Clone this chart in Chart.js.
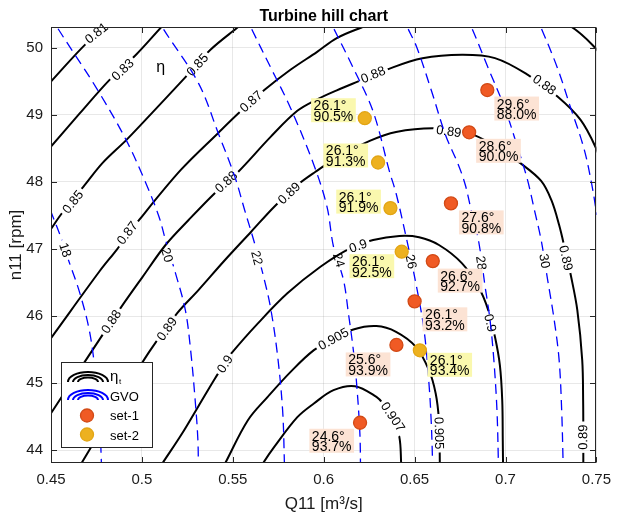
<!DOCTYPE html>
<html>
<head>
<meta charset="utf-8">
<script src="https://cdn.jsdelivr.net/npm/chart.js@4.4.1/dist/chart.umd.min.js"></script>
<style>
  html, body { margin: 0; padding: 0; background: #fff; }
  #wrap { width: 619px; height: 517px; }
</style>
</head>
<body>
<div id="wrap"><canvas id="hill" width="619" height="517"></canvas></div>
<script>
const FONT = '"Liberation Sans", Arial, Helvetica, sans-serif';

// ---- axes ----
const xTicks = [0.45, 0.5, 0.55, 0.6, 0.65, 0.7, 0.75];
const yTicks = [44, 45, 46, 47, 48, 49, 50];
const xRange = [0.45, 0.75];
const yRange = [43.81, 50.31];

// ---- efficiency contours, [Q11, n11] ----
const eta081 = [[0.4450,49.351],[0.4500,49.497],[0.4696,50.070],[0.4806,50.309],[0.4870,50.48]];
const eta083 = [[0.4450,48.370],[0.4500,48.527],[0.4659,49.025],[0.4822,49.522],[0.4969,49.900],[0.5107,50.309],[0.5160,50.46]];
const eta085 = [[0.4450,47.104],[0.4500,47.299],[0.4561,47.537],[0.4686,47.955],[0.4784,48.284],[0.4915,48.627],[0.5056,49.030],[0.5241,49.567],[0.5377,49.970],[0.5529,50.309],[0.5580,50.42]];
const eta087 = [[0.4450,45.490],[0.4500,45.672],[0.4768,46.672],[0.4860,46.985],[0.4985,47.433],[0.5214,48.179],[0.5420,48.731],[0.5540,49.045],[0.5675,49.373],[0.5817,49.672],[0.5964,49.940],[0.6072,50.145],[0.6208,50.303],[0.6400,50.50],[0.6800,50.62],[0.7150,50.55],[0.7359,50.318],[0.7495,49.996],[0.7540,49.82]];
const eta088 = [[0.4450,44.333],[0.4500,44.552],[0.4768,45.657],[0.4886,46.134],[0.5003,46.582],[0.5130,47.060],[0.5257,47.433],[0.5402,47.836],[0.5529,48.149],[0.5708,48.672],[0.5855,49.060],[0.5964,49.231],[0.6072,49.366],[0.6190,49.500],[0.6344,49.672],[0.6543,49.843],[0.6761,49.896],[0.6942,49.846],[0.7123,49.597],[0.7286,49.273],[0.7413,48.925],[0.7498,48.503],[0.7540,48.179]];
const eta089 = [[0.4638,43.672],[0.4849,44.627],[0.5040,45.467],[0.5193,46.040],[0.5311,46.388],[0.5457,46.836],[0.5601,47.258],[0.5728,47.631],[0.5855,47.955],[0.5953,48.149],[0.6072,48.358],[0.6253,48.612],[0.6398,48.746],[0.6616,48.799],[0.6795,48.731],[0.6942,48.537],[0.7087,48.269],[0.7196,48.015],[0.7252,47.731],[0.7295,47.358],[0.7328,46.985],[0.7359,46.612],[0.7395,46.090],[0.7422,45.343],[0.7427,44.746],[0.7428,44.149],[0.7428,43.701]];
const eta090 = [[0.5067,43.612],[0.5112,43.801],[0.5221,44.249],[0.5311,44.657],[0.5402,45.070],[0.5457,45.299],[0.5492,45.443],[0.5638,45.891],[0.5800,46.339],[0.5982,46.736],[0.6145,47.010],[0.6272,47.134],[0.6416,47.194],[0.6525,47.175],[0.6634,47.060],[0.6761,46.787],[0.6851,46.437],[0.6905,46.090],[0.6942,45.691],[0.6969,45.269],[0.6982,44.746],[0.6985,44.149],[0.6987,43.627]];
const eta0905 = [[0.5420,43.612],[0.5457,43.801],[0.5583,44.448],[0.5692,44.796],[0.5818,45.169],[0.5946,45.493],[0.6054,45.657],[0.6163,45.801],[0.6290,45.851],[0.6398,45.766],[0.6507,45.542],[0.6579,45.194],[0.6616,44.846],[0.6634,44.448],[0.6638,44.000],[0.6639,43.627]];
const eta0907 = [[0.5627,43.627],[0.5665,43.801],[0.5728,44.049],[0.5855,44.493],[0.5946,44.697],[0.6054,44.896],[0.6172,44.955],[0.6290,44.796],[0.6326,44.697],[0.6377,44.493],[0.6416,44.199],[0.6426,43.810],[0.6428,43.627]];

// ---- guide vane opening lines, [Q11, n11] ----
const gvo18 = [[0.4442,47.955],[0.4496,47.582],[0.4560,47.134],[0.4596,46.836],[0.4659,46.339],[0.4714,45.742],[0.4750,44.996],[0.4768,44.448],[0.4777,43.821],[0.4779,43.627]];
const gvo20 = [[0.4496,50.493],[0.4533,50.309],[0.4750,49.399],[0.4913,48.627],[0.5022,47.981],[0.5094,47.482],[0.5130,47.134],[0.5185,46.637],[0.5239,46.090],[0.5268,45.493],[0.5293,44.746],[0.5308,44.149],[0.5311,43.627]];
const gvo22 = [[0.5083,50.493],[0.5112,50.309],[0.5311,49.473],[0.5420,48.727],[0.5511,48.079],[0.5565,47.582],[0.5620,47.085],[0.5674,46.537],[0.5710,46.090],[0.5747,45.393],[0.5774,44.597],[0.5783,43.900],[0.5784,43.627]];
const gvo24 = [[0.5567,50.493],[0.5601,50.294],[0.5710,49.697],[0.5818,49.100],[0.5946,48.254],[0.6018,47.631],[0.6054,47.034],[0.6109,46.537],[0.6136,46.040],[0.6163,45.493],[0.6181,44.996],[0.6199,44.249],[0.6203,43.627]];
const gvo26 = [[0.6018,50.493],[0.6054,50.294],[0.6163,49.697],[0.6272,49.049],[0.6362,48.154],[0.6398,47.831],[0.6453,47.184],[0.6507,46.488],[0.6552,45.791],[0.6579,44.996],[0.6591,44.448],[0.6598,43.900],[0.6599,43.627]];
const gvo28 = [[0.6426,50.493],[0.6462,50.294],[0.6513,50.000],[0.6594,49.348],[0.6670,48.701],[0.6741,48.254],[0.6779,47.955],[0.6811,47.582],[0.6851,47.134],[0.6888,46.437],[0.6915,45.940],[0.6936,45.343],[0.6953,44.597],[0.6961,43.806],[0.6962,43.627]];
const gvo30 = [[0.6779,50.493],[0.6815,50.294],[0.6905,49.697],[0.6996,49.100],[0.7068,48.503],[0.7121,48.030],[0.7159,47.582],[0.7196,47.134],[0.7232,46.537],[0.7268,45.940],[0.7295,45.343],[0.7309,44.597],[0.7317,43.806],[0.7319,43.627]];
const gvo32 = [[0.7159,50.493],[0.7196,50.294],[0.7286,49.697],[0.7359,49.100],[0.7431,48.503],[0.7475,47.955],[0.7502,47.507],[0.7529,46.985]];

// ---- measured operating points ----
const set1Q     = [0.69, 0.68, 0.67, 0.66, 0.65, 0.64, 0.62];
const set1N     = [49.37, 48.74, 47.68, 46.82, 46.22, 45.57, 44.41];
const set1Angle = [29.6, 28.6, 27.6, 26.6, 26.1, 25.6, 24.6];
const set1Eff   = [88.0, 90.0, 90.8, 92.7, 93.2, 93.9, 93.7];

const set2Q     = [0.6226, 0.6299, 0.6367, 0.6429, 0.6529];
const set2N     = [48.95, 48.29, 47.61, 46.96, 45.49];
const set2Angle = [26.1, 26.1, 26.1, 26.1, 26.1];
const set2Eff   = [90.5, 91.3, 91.9, 92.5, 93.4];

// ---- layout: where the inline labels sit ----
const etaLabelSpots = [
  ['0.81', 0.4750, 50.219], ['0.83', 0.4895, 49.672],
  ['0.85', 0.4621, 47.701], ['0.85', 0.5306, 49.746],
  ['0.87', 0.4920, 47.239], ['0.87', 0.5601, 49.199],
  ['0.88', 0.4832, 45.915], ['0.88', 0.5464, 48.000], ['0.88', 0.6272, 49.597], ['0.88', 0.7214, 49.448],
  ['0.89', 0.5138, 45.806], ['0.89', 0.5810, 47.831], ['0.89', 0.6688, 48.751], ['0.89', 0.7332, 46.866], ['0.89', 0.7427, 44.194, true],
  ['0.9', 0.5457, 45.284], ['0.9', 0.6190, 47.045], ['0.9', 0.6915, 45.896],
  ['0.905', 0.6054, 45.657], ['0.905', 0.6634, 44.254],
  ['0.907', 0.6380, 44.497]
];
const gvoLabelSpots = [
  ['18', 0.4578, 46.985], ['20', 0.5138, 46.910], ['22', 0.5632, 46.866], ['24', 0.6082, 46.836],
  ['26', 0.6480, 46.810], ['28', 0.6866, 46.791], ['30', 0.7214, 46.821]
];
const etaMarkSpot = [0.5103, 49.64];
// value box offsets from the marker: [dx, dy, side]; side tells which box edge dx refers to
const set1BoxOffset = [[7,6.5,'left'],[7,6.5,'left'],[8,7,'left'],[5,7.5,'left'],[8,6,'left'],[-6,7.5,'right'],[-6,6,'right']];
const set2BoxOffset = [[-9,-20,'right'],[-10,-19,'right'],[-9.5,-18.5,'right'],[-7.5,2.5,'right'],[7.5,2.5,'left']];

const etaLines = [
  ['0.81', eta081], ['0.83', eta083], ['0.85', eta085], ['0.87', eta087], ['0.88', eta088],
  ['0.89', eta089], ['0.9', eta090], ['0.905', eta0905], ['0.907', eta0907]
];
const gvoLines = [
  ['18', gvo18], ['20', gvo20], ['22', gvo22], ['24', gvo24], ['26', gvo26],
  ['28', gvo28], ['30', gvo30], ['32', gvo32]
];

const toXY = pts => pts.map(p => ({ x: p[0], y: p[1] }));

const datasets = [];
const inlineLabels = {};   // dataset index -> {pts, spots, font}

etaLines.forEach(([lvl, pts]) => {
  inlineLabels[datasets.length] = {
    pts, font: '13px ' + FONT, size: 13,
    spots: etaLabelSpots.filter(s => s[0] === lvl)
  };
  datasets.push({
    label: 'eta ' + lvl, data: toXY(pts), order: 3,
    borderColor: '#000', borderWidth: 2, tension: 0.35,
    pointRadius: 0, fill: false, clip: 0
  });
});
gvoLines.forEach(([g, pts]) => {
  inlineLabels[datasets.length] = {
    pts, font: '13px ' + FONT, size: 13,
    spots: gvoLabelSpots.filter(s => s[0] === g)
  };
  datasets.push({
    label: 'GVO ' + g, data: toXY(pts), order: 2,
    borderColor: '#0000ff', borderWidth: 1.3, borderDash: [10, 6], tension: 0.35,
    pointRadius: 0, fill: false, clip: 0
  });
});

const set1Color = { fill: '#F05A24', edge: '#D24A16', box: '#FCE3D4' };
const set2Color = { fill: '#EDB120', edge: '#E2A514', box: '#FAF8AE' };

datasets.push({
  label: 'set-1', order: 1, showLine: false,
  data: set1Q.map((q, i) => ({ x: q, y: set1N[i] })),
  pointRadius: 6.5, pointBackgroundColor: set1Color.fill, pointBorderColor: set1Color.edge, pointBorderWidth: 1.3,
  clip: 0
});
datasets.push({
  label: 'set-2', order: 1, showLine: false,
  data: set2Q.map((q, i) => ({ x: q, y: set2N[i] })),
  pointRadius: 6.5, pointBackgroundColor: set2Color.fill, pointBorderColor: set2Color.edge, pointBorderWidth: 1.3,
  clip: 0
});

// place each inline label on its line and turn it along the line
function labelGeometry(chart, info) {
  const xs = chart.scales.x, ys = chart.scales.y, ctx = chart.ctx;
  const P = info.pts.map(p => [xs.getPixelForValue(p[0]), ys.getPixelForValue(p[1])]);
  ctx.save();
  ctx.font = info.font;
  const out = info.spots.map(s => {
    const sx = xs.getPixelForValue(s[1]), sy = ys.getPixelForValue(s[2]);
    let best = null;
    for (let i = 0; i < P.length - 1; i++) {
      const [x1, y1] = P[i], [x2, y2] = P[i + 1];
      const dx = x2 - x1, dy = y2 - y1, L2 = dx * dx + dy * dy;
      let t = ((sx - x1) * dx + (sy - y1) * dy) / L2;
      t = Math.max(0, Math.min(1, t));
      const px = x1 + t * dx, py = y1 + t * dy;
      const d = (px - sx) ** 2 + (py - sy) ** 2;
      if (!best || d < best.d) best = { d, x: px, y: py, a: Math.atan2(dy, dx) };
    }
    let a = best.a;
    if (a > Math.PI / 2) a -= Math.PI;
    if (a <= -Math.PI / 2) a += Math.PI;
    if (s[3]) a -= Math.PI;
    return { x: sx, y: sy, a, w: ctx.measureText(s[0]).width, text: s[0] };
  });
  ctx.restore();
  return out;
}

function rotatedRect(ctx, g, hw, hh) {
  const c = Math.cos(g.a), s = Math.sin(g.a);
  const pts = [[-hw, -hh], [hw, -hh], [hw, hh], [-hw, hh]].map(([u, v]) => [g.x + u * c - v * s, g.y + u * s + v * c]);
  ctx.moveTo(pts[0][0], pts[0][1]);
  for (let k = 1; k < 4; k++) ctx.lineTo(pts[k][0], pts[k][1]);
  ctx.closePath();
}

function drawArcIcon(ctx, cx, cy, color) {
  ctx.save();
  ctx.strokeStyle = color;
  ctx.lineWidth = 2;
  [[20, 10], [15, 7], [10, 4.5]].forEach(([rx, ry]) => {
    ctx.beginPath();
    ctx.ellipse(cx, cy, rx, ry, 0, Math.PI, 2 * Math.PI);
    ctx.stroke();
  });
  ctx.restore();
}

const hillPlugin = {
  id: 'hillDecor',
  beforeDatasetDraw(chart, args) {
    const info = inlineLabels[args.index];
    if (!info) return;
    const geo = labelGeometry(chart, info);
    info.geo = geo;
    const ctx = chart.ctx;
    ctx.save();
    ctx.beginPath();
    ctx.rect(0, 0, chart.width, chart.height);
    geo.forEach(g => rotatedRect(ctx, g, g.w / 2 + 3, info.size * 0.55));
    ctx.clip('evenodd');
  },
  afterDatasetDraw(chart, args) {
    const info = inlineLabels[args.index];
    if (!info) return;
    const ctx = chart.ctx;
    ctx.restore();
    ctx.save();
    ctx.font = info.font;
    ctx.fillStyle = '#000';
    ctx.textAlign = 'center';
    ctx.textBaseline = 'middle';
    info.geo.forEach(g => {
      ctx.save();
      ctx.translate(g.x, g.y);
      ctx.rotate(g.a);
      ctx.fillText(g.text, 0, 0.5);
      ctx.restore();
    });
    ctx.restore();
  },
  afterDatasetsDraw(chart) {
    const ctx = chart.ctx, area = chart.chartArea;
    const xs = chart.scales.x, ys = chart.scales.y;

    // value boxes next to the markers
    const drawBoxes = (Q, N, A, E, offs, col) => {
      ctx.save();
      ctx.font = '14px ' + FONT;
      Q.forEach((q, i) => {
        const px = xs.getPixelForValue(q), py = ys.getPixelForValue(N[i]);
        const l1 = A[i].toFixed(1) + '°', l2 = E[i].toFixed(1) + '%';
        const w = Math.max(ctx.measureText(l1).width, ctx.measureText(l2).width) + 5;
        const h = 24;
        const [dx, dy, side] = offs[i];
        const left = side === 'left' ? px + dx : px + dx - w;
        const top = py + dy;
        ctx.fillStyle = col.box;
        ctx.fillRect(left, top, w, h);
        ctx.fillStyle = '#000';
        ctx.textAlign = 'left';
        ctx.textBaseline = 'alphabetic';
        ctx.fillText(l1, left + 2.5, top + 12);
        ctx.fillText(l2, left + 2.5, top + 22.5);
      });
      ctx.restore();
    };
    drawBoxes(set1Q, set1N, set1Angle, set1Eff, set1BoxOffset, set1Color);
    drawBoxes(set2Q, set2N, set2Angle, set2Eff, set2BoxOffset, set2Color);

    // eta marker text in the field
    ctx.save();
    ctx.font = '16px ' + FONT;
    ctx.fillStyle = '#000';
    ctx.textAlign = 'center';
    ctx.fillText('η', xs.getPixelForValue(etaMarkSpot[0]), ys.getPixelForValue(etaMarkSpot[1]));
    ctx.restore();

    // axes box with inward ticks
    ctx.save();
    ctx.strokeStyle = '#262626';
    ctx.lineWidth = 1;
    const L = Math.round(area.left) + 0.5, R = Math.round(area.right) - 0.5;
    const T = Math.round(area.top) + 0.5, B = Math.round(area.bottom) - 0.5;
    ctx.strokeRect(L, T, R - L, B - T);
    ctx.beginPath();
    xTicks.forEach(v => {
      const x = Math.round(xs.getPixelForValue(v)) + 0.5;
      ctx.moveTo(x, B); ctx.lineTo(x, B - 5.5);
      ctx.moveTo(x, T); ctx.lineTo(x, T + 5.5);
    });
    yTicks.forEach(v => {
      const y = Math.round(ys.getPixelForValue(v)) + 0.5;
      ctx.moveTo(L, y); ctx.lineTo(L + 5.5, y);
      ctx.moveTo(R, y); ctx.lineTo(R - 5.5, y);
    });
    ctx.stroke();
    ctx.restore();

    // title
    ctx.save();
    ctx.font = 'bold 16px ' + FONT;
    ctx.fillStyle = '#000';
    ctx.textAlign = 'center';
    ctx.fillText('Turbine hill chart', (area.left + area.right) / 2, 21);
    ctx.restore();

    // legend
    const lx = 61, ly = 362, lw = 92, lh = 86;
    ctx.save();
    ctx.fillStyle = '#fff';
    ctx.fillRect(lx, ly, lw, lh);
    ctx.strokeStyle = '#262626';
    ctx.lineWidth = 1;
    ctx.strokeRect(lx + 0.5, ly + 0.5, lw - 1, lh - 1);
    drawArcIcon(ctx, 88, 382, '#000');
    drawArcIcon(ctx, 88, 400, '#0000ff');
    const dot = (x, y, c) => {
      ctx.beginPath(); ctx.arc(x, y, 6.5, 0, 2 * Math.PI);
      ctx.fillStyle = c.fill; ctx.fill();
      ctx.lineWidth = 1.3; ctx.strokeStyle = c.edge; ctx.stroke();
    };
    dot(87, 415.5, set1Color);
    dot(87, 434.5, set2Color);
    ctx.fillStyle = '#000';
    ctx.textAlign = 'left';
    ctx.font = '15px ' + FONT;
    ctx.fillText('η', 110, 381);
    ctx.font = '8px ' + FONT;
    ctx.fillText('t', 119, 384);
    ctx.font = '13px ' + FONT;
    ctx.fillText('GVO', 110, 400.5);
    ctx.fillText('set-1', 110, 420);
    ctx.fillText('set-2', 110, 439.5);
    ctx.restore();
  }
};

Chart.defaults.font.family = FONT;

new Chart(document.getElementById('hill'), {
  type: 'line',
  data: { datasets },
  options: {
    responsive: false,
    animation: false,
    events: [],
    layout: { padding: { top: 27, right: 17, left: 0, bottom: 0 } },
    plugins: { legend: { display: false }, tooltip: { enabled: false }, title: { display: false } },
    scales: {
      x: {
        type: 'linear', min: xRange[0], max: xRange[1],
        afterBuildTicks: s => { s.ticks = xTicks.map(v => ({ value: v })); },
        afterFit: s => { s.height = 54; },
        grid: { color: 'rgba(0,0,0,0.09)', lineWidth: 1, drawTicks: false },
        border: { display: false },
        ticks: { font: { size: 15 }, color: '#1a1a1a', padding: 8, maxRotation: 0, callback: v => String(v) },
        title: { display: true, text: 'Q11 [m³/s]', font: { size: 17 }, color: '#1a1a1a', padding: { top: 0, bottom: 2 } }
      },
      y: {
        type: 'linear', min: yRange[0], max: yRange[1],
        afterBuildTicks: s => { s.ticks = yTicks.map(v => ({ value: v })); },
        afterFit: s => { s.width = 51; },
        grid: { color: 'rgba(0,0,0,0.09)', lineWidth: 1, drawTicks: false },
        border: { display: false },
        ticks: { font: { size: 15 }, color: '#1a1a1a', padding: 8, callback: v => String(v) },
        title: { display: true, text: 'n11 [rpm]', font: { size: 17 }, color: '#1a1a1a', padding: { top: 6, bottom: 0 } }
      }
    }
  },
  plugins: [hillPlugin]
});
</script>
</body>
</html>
